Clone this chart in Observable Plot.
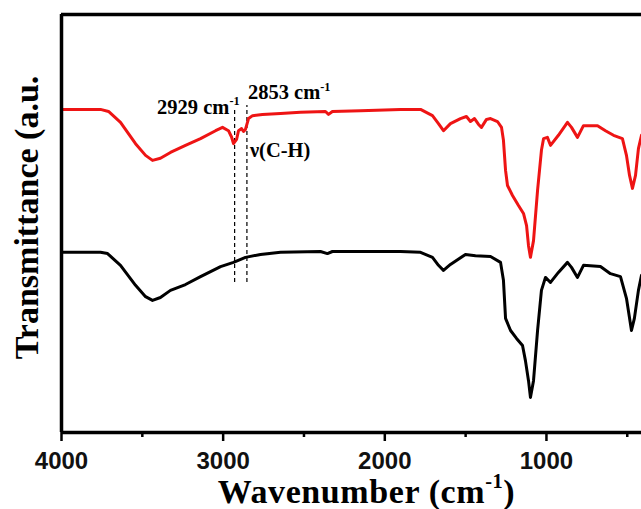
<!DOCTYPE html>
<html><head><meta charset="utf-8">
<script src="https://cdn.jsdelivr.net/npm/d3@7"></script>
<script src="https://cdn.jsdelivr.net/npm/@observablehq/plot@0.6"></script>
<style>body{margin:0;background:#fff}#chart{width:641px;height:509px;overflow:hidden}</style>
</head><body><div id="chart"></div>
<script>
// Red spectrum (top)
const wnRed = [4000,3759,3709,3635,3542,3480,3437,3388,3326,3233,3140,3047,3004,2967,2948,2936,2917,2905,2886,2874,2862,2843,2818,2757,2645,2522,2367,2348,2324,2150,1903,1779,1705,1668,1637,1594,1532,1495,1470,1445,1420,1402,1371,1346,1303,1278,1266,1253,1241,1210,1173,1142,1123,1111,1099,1080,1055,1031,1018,994,975,926,870,845,808,771,684,635,585,530,505,486,468,449,431,412];
const trRed = [77.3,77.3,76.8,74.2,69.1,66.3,65.1,65.6,67.0,68.7,70.3,72.2,73.0,72.2,70.7,69.1,70.1,72.2,72.7,72.0,72.5,75.1,75.8,76.1,76.3,76.6,76.8,76.1,76.8,77.0,77.3,77.3,75.8,73.9,72.2,73.9,75.1,75.6,74.4,75.1,73.7,73.0,74.9,75.1,74.4,73.0,69.9,62.7,59.1,56.7,54.3,52.4,49.5,44.7,41.9,45.9,57.9,67.5,70.3,70.6,68.7,71.1,74.2,73.0,70.6,73.4,73.4,72.2,71.1,70.3,66.3,61.5,58.4,61.5,67.9,71.1];
// Black spectrum (bottom)
const wnBlack = [4000,3759,3715,3635,3542,3480,3437,3388,3326,3233,3140,3016,2936,2862,2769,2645,2398,2355,2324,1903,1779,1705,1668,1637,1594,1501,1439,1346,1284,1266,1253,1222,1185,1148,1130,1111,1099,1080,1055,1031,1006,975,926,870,845,808,771,666,604,542,505,474,456,431,412];
const trBlack = [43.1,43.1,42.8,40.0,35.2,32.5,31.6,32.3,34.0,35.4,37.3,39.7,40.7,41.9,42.6,43.1,43.3,42.8,43.3,43.3,43.1,41.9,40.0,38.8,40.2,42.6,42.3,42.1,40.7,36.4,27.3,24.4,22.5,20.8,17.2,12.4,8.4,12.4,24.4,34.0,37.1,35.9,38.3,40.7,39.5,37.1,40.0,39.7,38.0,37.3,32.1,24.4,27.3,34.0,37.6];
const majorTicks = [4000, 3000, 2000, 1000];
const minorTicks = [3500, 2500, 1500, 500];
const peakWn = [2929, 2853];
const peakLineTop = [77.5, 78.2];
const peakLineBottom = 35.9;
const peakLabels = ["2929 cm^{-1}", "2853 cm^{-1}"];
const peakLabelY = [76.3, 79.7];
const bandLabel = "ν(C-H)";
const bandLabelY = 65.8;
const xLabel = "Wavenumber (cm^{-1})";
const yLabel = "Transmittance (a.u.";

const red = wnRed.map((w, i) => ({w, t: trRed[i]}));
const black = wnBlack.map((w, i) => ({w, t: trBlack[i]}));
const serif = "'Liberation Serif', 'Times New Roman', serif";
const sans = "'Liberation Sans', Arial, sans-serif";

const chart = Plot.plot({
  width: 641, height: 509,
  marginLeft: 61, marginRight: 0, marginTop: 14, marginBottom: 77,
  style: {background: "#fff", overflow: "visible"},
  x: {domain: [4000, 412]},
  y: {domain: [0, 100], axis: null},
  marks: [
    Plot.axisX({ticks: minorTicks, tickSize: 5, strokeWidth: 2.5, tickFormat: () => "", label: null}),
    Plot.axisX({ticks: majorTicks, tickSize: 9, tickPadding: 10, strokeWidth: 2.5, tickFormat: d => String(d),
      fontSize: 24, fontWeight: "bold", fontFamily: sans, fill: "#111", label: null}),
    Plot.ruleX(peakWn.map((w, i) => ({w, top: peakLineTop[i]})), {x: "w", y1: peakLineBottom, y2: "top", stroke: "#000", strokeWidth: 1.2, strokeDasharray: "4,3"}),
    Plot.line(red, {x: "w", y: "t", stroke: "#ee1414", strokeWidth: 3, strokeLinejoin: "round"}),
    Plot.line(black, {x: "w", y: "t", stroke: "#000", strokeWidth: 3, strokeLinejoin: "round"}),
    Plot.ruleY([0], {stroke: "#000", strokeWidth: 3.5}),
    Plot.ruleY([100], {stroke: "#000", strokeWidth: 3.5}),
    Plot.ruleX([4000], {stroke: "#000", strokeWidth: 3.5}),
    Plot.text([0], {x: peakWn[0], y: peakLabelY[0], text: () => peakLabels[0], textAnchor: "end", lineAnchor: "bottom", dx: 5,
      fontSize: 20.5, fontWeight: "bold", fontFamily: serif, fill: "#000"}),
    Plot.text([1], {x: peakWn[1], y: peakLabelY[1], text: () => peakLabels[1], textAnchor: "start", lineAnchor: "bottom", dx: 1,
      fontSize: 20.5, fontWeight: "bold", fontFamily: serif, fill: "#000"}),
    Plot.text([bandLabel], {x: peakWn[1], y: bandLabelY, text: d => d, textAnchor: "start", lineAnchor: "bottom", dx: 3,
      fontSize: 20.5, fontWeight: "bold", fontFamily: serif, fill: "#000"}),
    Plot.text([xLabel], {frameAnchor: "bottom", text: d => d, textAnchor: "middle", lineAnchor: "bottom", dx: 15, dy: 70,
      fontSize: 34, fontWeight: "bold", fontFamily: serif, fill: "#000"}),
    Plot.text([yLabel], {frameAnchor: "left", text: d => d, rotate: -90, textAnchor: "middle", lineAnchor: "bottom", dx: -24, dy: -6,
      fontSize: 34, fontWeight: "bold", fontFamily: serif, fill: "#000"})
  ]
});
document.getElementById("chart").appendChild(chart);

// superscripts: replace ^{...} by raised tspans
d3.select(chart).selectAll("text").each(function() {
  const s = this.textContent;
  const m = s.match(/^(.*)\^\{([^}]*)\}(.*)$/);
  if (!m) return;
  const fs = parseFloat(getComputedStyle(this).fontSize) || 16;
  const sel = d3.select(this);
  sel.text(null);
  sel.append("tspan").text(m[1]);
  const rise = fs * 0.42;
  sel.append("tspan").attr("dy", -rise).attr("font-size", fs * 0.6).text(m[2]);
  if (m[3]) sel.append("tspan").attr("dy", rise).text(m[3]);
});
// slight letter spacing on the x-axis title, as in the reference
d3.select(chart).selectAll("text").filter(function() { return this.textContent.startsWith("Wavenumber"); })
  .attr("letter-spacing", "0.6");
</script>
</body></html>
